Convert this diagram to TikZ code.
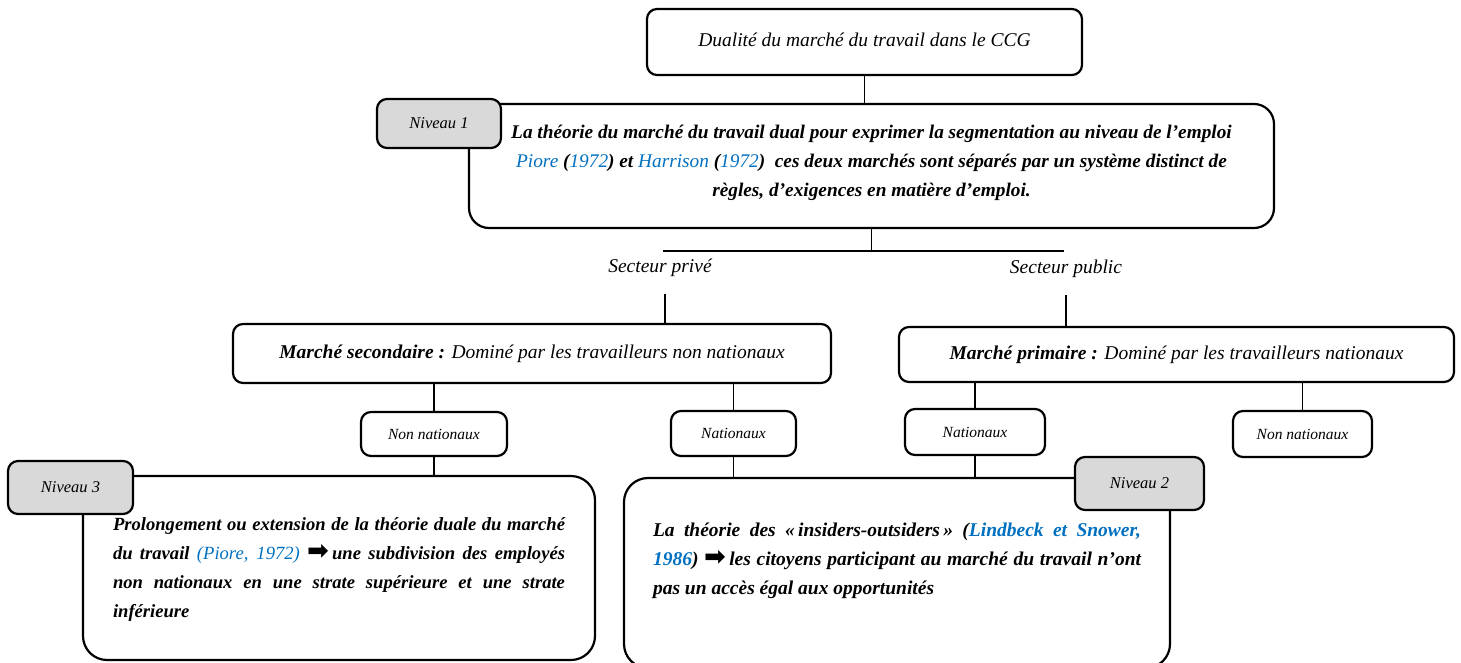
\documentclass[tikz,border=0pt]{standalone}
\usepackage{fontspec}
\setmainfont{Liberation Serif}
\newfontfamily\symfont{DejaVu Sans}
\usepackage{xcolor}
\definecolor{citeblue}{HTML}{0070C0}
\definecolor{levelgray}{HTML}{D9D9D9}
\newcommand{\refblue}[1]{\textcolor{citeblue}{\mdseries #1}}
\newcommand{\bigarrow}{{\symfont\upshape\fontsize{26}{20}\selectfont ➡}}

\begin{document}
\begin{tikzpicture}[x=1pt,y=-1pt,
        box/.style={draw=black,line width=2.2pt,rounded corners=10pt,inner sep=0pt},
        bigbox/.style={box,rounded corners=24pt},
        levelbox/.style={box,fill=levelgray,font=\fontsize{16.5}{18}\selectfont\itshape},
        smallbox/.style={box,font=\fontsize{15.5}{17}\selectfont\itshape},
        label/.style={font=\fontsize{19.5}{22}\selectfont\itshape},
        link/.style={line width=1.8pt},
        bodytext/.style={text width=#1,align=justify,font=\fontsize{19.5}{29}\selectfont\bfseries\itshape}]
    \useasboundingbox (0,0) rectangle (1461,662);
    % boxes
    \node[box,minimum width=435,minimum height=66,font=\fontsize{19.5}{22}\selectfont\itshape] (top) at (864.5,42)
        {\raisebox{4pt}{Dualité du marché du travail dans le CCG}};
    \node[bigbox,rounded corners=20pt,minimum width=805,minimum height=124] (box1) at (871.5,166) {};
    \node[align=center,font=\fontsize{19.3}{29}\selectfont\bfseries\itshape] (txt1) at (871.5,163)
        {La théorie du marché du travail dual pour exprimer la segmentation au niveau de l'emploi\\
        \refblue{Piore} (\refblue{1972}) et \refblue{Harrison} (\refblue{1972})\ \ ces deux marchés sont séparés par un système distinct de\\
        règles, d'exigences en matière d’emploi.};
    \coordinate (busL) at (663,251);
    \coordinate (busR) at (1064,251);
    \node[label] (priv) at (660,268) {Secteur privé};
    \node[label] (pub) at (1066,269) {Secteur public};
    \node[box,label,minimum width=598,minimum height=59] (sec) at (532,353.5)
        {\textbf{Marché secondaire~:} Dominé par les travailleurs non nationaux};
    \node[box,label,minimum width=555,minimum height=55] (prim) at (1176.5,354.5)
        {\textbf{Marché primaire~:} Dominé par les travailleurs nationaux};
    \node[smallbox,minimum width=146,minimum height=44] (nn1) at (434,434) {Non nationaux};
    \node[smallbox,minimum width=125,minimum height=45] (nat1) at (733.5,433.5) {Nationaux};
    \node[smallbox,minimum width=140,minimum height=46] (nat2) at (975,432) {Nationaux};
    \node[smallbox,minimum width=139,minimum height=46] (nn2) at (1302.5,434) {Non nationaux};
    \node[bigbox,minimum width=512,minimum height=184] (box3) at (339,568) {};
    \node[bodytext=452,font=\fontsize{18.6}{29}\selectfont\bfseries\itshape] (txt3) at (339,569.5)
        {Prolongement ou extension de la théorie duale du marché\linebreak
        du travail \refblue{(Piore, 1972)} \bigarrow\,une subdivision des employés\linebreak
        non nationaux en une strate supérieure et une strate\linebreak
        inférieure};
    \node[bigbox,minimum width=546,minimum height=190] (box2) at (897,573) {};
    \node[bodytext=488] (txt2) at (897,561)
        {La théorie des «\,insiders-outsiders\,» (\textcolor{citeblue}{Lindbeck et Snower,}\linebreak
        \textcolor{citeblue}{1986}) \bigarrow\,les citoyens participant au marché du travail n'ont\linebreak
        pas un accès égal aux opportunités};
    % connectors
    \draw[link] (top.south) -- (top.south |- box1.north);
    \draw[link] (box1.south) -- (box1.south |- busL);
    \draw[link] (busL) -- (busR);
    \draw[link] ([xshift=5pt,yshift=-14pt]priv.south) -- ([xshift=5pt]priv.south |- sec.north);
    \draw[link] ([yshift=-14pt]pub.south) -- (pub.south |- prim.north);
    \draw[link] (nn1.north |- sec.south) -- (nn1.north);
    \draw[link] (nat1.north |- sec.south) -- (nat1.north);
    \draw[link] (nat2.north |- prim.south) -- (nat2.north);
    \draw[link] (nn2.north |- prim.south) -- (nn2.north);
    \draw[link] (nn1.south) -- (nn1.south |- box3.north);
    \draw[link] (nat1.south) -- (nat1.south |- box2.north);
    \draw[link] (nat2.south) -- (nat2.south |- box2.north);
    % levels
    \node[levelbox,minimum width=124,minimum height=49] (niv1) at (439,123.5) {Niveau 1};
    \node[levelbox,minimum width=125,minimum height=53] (niv3) at (70.5,487.5) {Niveau 3};
    \node[levelbox,minimum width=129,minimum height=53] (niv2) at (1139.5,483.5) {Niveau 2};
\end{tikzpicture}
\end{document}
